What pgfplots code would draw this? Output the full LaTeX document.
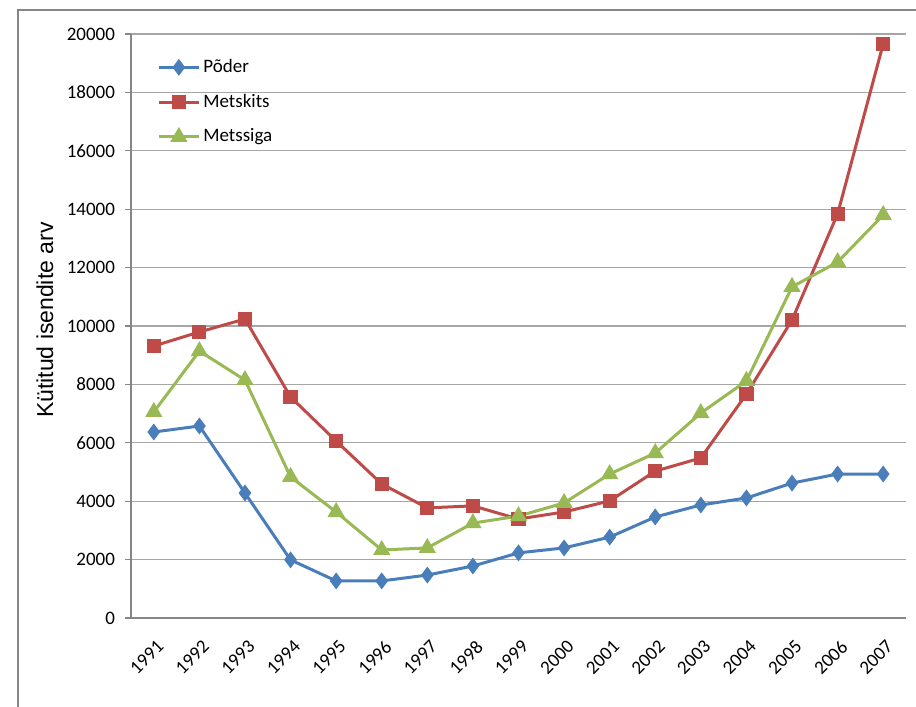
\documentclass[border=0pt]{standalone}
\usepackage{pgfplots}
\pgfplotsset{compat=1.18}
\usepackage{fontspec}
\setmainfont{Carlito}
\newfontfamily\arialfont{Liberation Sans}
\definecolor{cblue}{HTML}{4A7EBB}
\definecolor{cred}{HTML}{BE4B48}
\definecolor{cgreen}{HTML}{98B954}
\definecolor{axgray}{HTML}{868686}
\definecolor{gridgray}{HTML}{A6A6A6}
\pgfplotstableread{
x poder metskits metssiga
1 6370 9315 7055
2 6575 9795 9140
3 4280 10240 8150
4 1990 7570 4830
5 1270 6060 3630
6 1270 4590 2330
7 1470 3770 2400
8 1780 3840 3250
9 2230 3390 3490
10 2400 3630 3940
11 2770 4010 4930
12 3460 5030 5650
13 3870 5480 7020
14 4110 7670 8120
15 4620 10205 11340
16 4930 13840 12190
17 4930 19660 13800
}\datatable
\begin{document}
\begin{tikzpicture}
\useasboundingbox (0pt,0pt) rectangle (458pt,353.5pt);
\draw[axgray, line width=0.6pt] (9pt,0pt) -- (9pt,348.5pt) -- (458pt,348.5pt);
\begin{axis}[
  at={(65.5pt,44.5pt)}, anchor=south west,
  scale only axis, width=387.5pt, height=292pt,
  xmin=0.5, xmax=17.5, ymin=0, ymax=20000,
  scaled y ticks=false,
  axis x line*=bottom, axis y line*=left,
  axis line style={axgray, line width=0.6pt},
  xtick={1,...,17},
  xticklabels={1991,1992,1993,1994,1995,1996,1997,1998,1999,2000,2001,2002,2003,2004,2005,2006,2007},
  major x tick style={draw=none},
  extra x ticks={0.5,1.5,...,17.5},
  extra x tick labels={},
  extra x tick style={major tick length=3pt, tick align=outside, tick style={axgray, line width=0.6pt}, grid=none},
  x tick label style={rotate=45, anchor=north east, font=\fontsize{9.5}{11}\selectfont, inner sep=1pt, xshift=-3.5pt, yshift=-5pt},
  ytick={0,2000,...,20000},
  y tick label style={font=\fontsize{9.5}{11}\selectfont, xshift=-1.5pt},
  ymajorgrids, grid style={gridgray, line width=0.6pt},
  tick align=outside, major tick length=3pt,
  y tick style={axgray, line width=0.6pt},
  /pgf/number format/1000 sep={},
  /pgf/number format/assume math mode=true,
  ylabel={\arialfont\fontsize{11.5}{13}\selectfont Kütitud isendite arv},
  ylabel style={at={(axis description cs:-0.111,0.51)}, anchor=center},
  legend style={draw=none, fill=none, at={(axis cs:1.07,19250)}, anchor=north west,
    font=\fontsize{9.5}{11}\selectfont, row sep=6.3pt, inner sep=0pt,
    nodes={inner sep=1.5pt}},
  legend cell align=left,
  legend image code/.code={\draw[#1, mark=none] (0pt,0pt) -- (20pt,0pt); \path[#1] plot coordinates {(10pt,0pt)};},
]
\addplot[cblue, line width=1.5pt, mark=diamond*, mark size=3pt, mark options={fill=cblue}] table[x=x,y=poder] {\datatable};
\addlegendentry{Põder}
\addplot[cred, line width=1.5pt, mark=square*, mark size=2.8pt, mark options={fill=cred}] table[x=x,y=metskits] {\datatable};
\addlegendentry{Metskits}
\addplot[cgreen, line width=1.5pt, mark=triangle*, mark size=3.5pt, mark options={fill=cgreen}] table[x=x,y=metssiga] {\datatable};
\addlegendentry{Metssiga}
\end{axis}
\end{tikzpicture}
\end{document}
